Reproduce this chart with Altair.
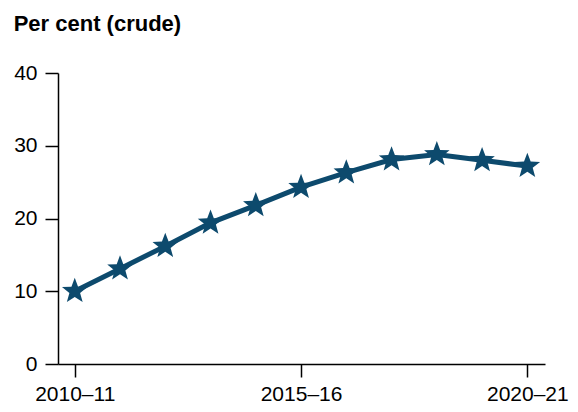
import math
import altair as alt
import pandas as pd

years = ["2010–11", "2011–12", "2012–13", "2013–14", "2014–15", "2015–16",
         "2016–17", "2017–18", "2018–19", "2019–20", "2020–21"]
values = [10.0, 13.1, 16.2, 19.4, 21.8, 24.3, 26.3, 28.1, 28.8, 28.0, 27.2]
y_ticks = [0, 10, 20, 30, 40]
x_label_years = ["2010–11", "2015–16", "2020–21"]

df = pd.DataFrame({"idx": list(range(len(years))), "year": years, "value": values})
x_tick_idx = [years.index(y) for y in x_label_years]

label_expr = "''"
for i in reversed(x_tick_idx):
    label_expr = f"datum.value == {i} ? '{years[i]}' : ({label_expr})"

# five-pointed star symbol path in unit coordinates
pts_path = []
for k in range(10):
    ang = math.radians(-90 + 36 * k)
    r = 1.0 if k % 2 == 0 else 0.42
    pts_path.append(f"{r * math.cos(ang):.3f},{r * math.sin(ang):.3f}")
STAR = "M" + " L".join(pts_path) + " Z"

FONT = "Liberation Sans"
COLOR = "#0d4a6d"

x_enc = alt.X(
    "idx:Q",
    scale=alt.Scale(domain=[-0.37, 10.39], nice=False, zero=False),
    axis=alt.Axis(
        values=x_tick_idx,
        labelExpr=label_expr,
        title=None, grid=False, tickSize=13, labelPadding=6,
        domainColor="black", tickColor="black", domainWidth=1.5, tickWidth=1.5,
        labelFontSize=21, labelFont=FONT, labelColor="black",
    ),
)
y_enc = alt.Y(
    "value:Q",
    scale=alt.Scale(domain=[0, 40], nice=False),
    axis=alt.Axis(
        values=y_ticks, title=None, grid=False, tickSize=13, labelPadding=8,
        domainColor="black", tickColor="black", domainWidth=1.5, tickWidth=1.5,
        labelFontSize=21, labelFont=FONT, labelColor="black",
    ),
)

base = alt.Chart(df).encode(x=x_enc, y=y_enc)
line = base.mark_line(color=COLOR, strokeWidth=5)
pts = base.mark_point(shape=STAR, filled=True, size=720, color=COLOR, opacity=1)

chart = (line + pts).properties(
    width=487, height=291,
    autosize=alt.AutoSizeParams(type="none"),
    padding={"left": 50, "top": 65, "right": 25, "bottom": 40},
    title=alt.TitleParams("Per cent (crude)", anchor="start", frame="bounds",
                          fontSize=22, fontWeight="bold", font=FONT,
                          color="black", offset=26),
).configure_view(stroke=None)

chart.save("out.html", embed_options={"renderer": "svg", "actions": False})
